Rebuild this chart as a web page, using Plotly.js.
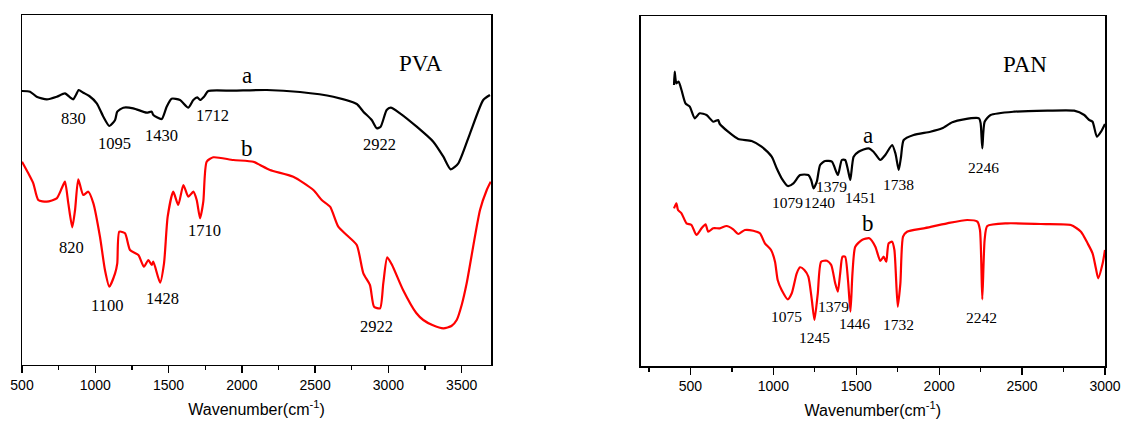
<!DOCTYPE html>
<html>
<head>
<meta charset="utf-8">
<script src="https://cdn.plot.ly/plotly-3.0.1.min.js"></script>
<style>html,body{margin:0;padding:0;background:#fff;}#chart{width:1126px;height:423px;}</style>
</head>
<body>
<div id="chart"></div>
<script>
// ---------- DATA (transmittance in arbitrary units) ----------
const pvaA_wn = [500,555,600,669,737,793,828,850,868,887,918,959,1010,1055,1096,1135,1150,1191,1259,1351,1385,1396,1453,1487,1521,1578,1635,1669,1696,1715,1742,1771,1942,2170,2397,2624,2784,2829,2886,2920,2947,2988,3016,3079,3193,3306,3375,3425,3477,3557,3647,3693];
const pvaA_T  = [274,273.3,268.3,265.7,268.3,271.7,267.7,265.7,270,275,272.3,269,261.7,248.3,239,245,253.3,257.3,256.7,252.3,253.3,250,246,258.3,266.3,265,257.3,265,267.7,265,268.3,274,274.3,275,273,268.3,261,253.3,245,236.7,238.3,255,257.3,251.7,238.3,223.3,208.3,195.7,201.7,231.7,265,270];

const pvaB_wn = [500,543,577,611,669,737,771,793,816,843,862,884,918,952,987,1032,1066,1096,1135,1150,1164,1203,1237,1294,1332,1362,1385,1396,1442,1469,1494,1532,1566,1601,1635,1669,1692,1715,1737,1760,1805,1942,2078,2124,2192,2351,2488,2545,2602,2658,2715,2784,2829,2874,2902,2943,2965,2992,3025,3100,3190,3238,3300,3375,3430,3466,3500,3534,3625,3671,3698];
const pvaB_T  = [203.3,191.7,181.7,165,163.3,166.7,176.7,183.3,161.7,137.7,155,185.7,170,173.3,161.7,128.3,95,78.3,91.7,101.7,133.3,131.7,115,110,98.3,105,100,103.3,82.3,101.7,148.3,173.3,160,180,168.3,173.3,165,146.7,163.3,203.3,207.7,205,203.3,200,195,188.3,175,165,158.3,138.3,130,120,91.7,80,58.3,56.7,81.7,107.7,100,75,52,45,40,36.7,39,45,60,81.7,155,175,183.3];

const panA_wn = [401,405,415,429,446,470,496,526,556,597,637,667,677,727,788,869,929,990,1020,1050,1087,1121,1161,1211,1228,1242,1262,1282,1312,1353,1389,1413,1433,1450,1464,1484,1514,1574,1604,1645,1675,1716,1736,1756,1770,1786,1846,1947,2018,2079,2149,2240,2250,2260,2274,2310,2451,2653,2814,2875,2905,2925,2951,2976,3000];
const panA_T  = [281,294.3,282.7,284.3,276,262.7,259.3,247.7,252.7,251,244.3,246,242,234.3,227,225,219.3,209.3,197.7,187.7,180,182.7,191,191,186,177.7,184.3,201,205,204.3,191,206,206,196,186,209.3,214.3,217.7,214.3,206,211,221,212.7,196,209.3,226,231,234.3,237.7,243.7,246.7,247.7,242.7,217.7,244.3,251,254.3,255.3,255.3,251,246,244.3,229.3,234.3,242];

const panB_wn = [401,415,425,446,476,506,536,567,591,607,637,677,718,758,788,828,879,919,949,986,1010,1026,1050,1087,1111,1141,1161,1187,1211,1232,1248,1268,1288,1323,1349,1373,1389,1403,1417,1433,1450,1465,1477,1494,1534,1579,1615,1645,1665,1681,1695,1716,1730,1750,1766,1782,1806,1907,2048,2169,2230,2246,2260,2274,2290,2411,2613,2794,2855,2895,2925,2945,2959,2986,3000];
const panB_T  = [157.7,162.7,156,152.7,142.7,141,131,137.7,141.7,134.3,137.7,137.7,140,136.7,132,136,135.3,132.7,122.7,116,104.3,86,76,66.7,72.7,92.7,98.7,96,89.3,66,46,72.7,104.3,105.3,101,82.7,74.3,92.7,109.3,109.3,86,54.3,92.7,119.3,126,127.7,119.3,105,109.3,104.3,122.7,124.3,116,59.3,82.7,129.3,134.3,137.7,142.7,146,144.3,136,66.7,126,140,142.7,142,141,134.3,122.7,112.7,97.7,87.7,102.7,116];

const pvaA_peaks = ["830","1095","1430","1712","2922"];
const pvaB_peaks = ["820","1100","1428","1710","2922"];
const panA_peaks = ["1079","1240","1379","1451","1738","2246"];
const panB_peaks = ["1075","1245","1379","1446","1732","2242"];
const xTitle = "Wavenumber(cm<sup>-1</sup>)";

// ---------- placement of texts (wavenumber, T) ----------
const pvaA_pos = [[848,247],[1134,222],[1455,230],[1803,250],[2936,221]];
const pvaB_pos = [[839,118],[1082,60],[1457,67],[1742,135],[2920,39]];
const panA_pos = [[1085,164],[1280,164],[1353,180],[1524,169],[1752,182],[2270,199]];
const panB_pos = [[1081,50],[1248,29],[1362,60],[1488,43],[1752,42],[2256,49]];

const serif = "Liberation Serif, Times New Roman, serif";
const sans = "Liberation Sans, Arial, sans-serif";

function tr(x, y, xa, ya, color) {
  return {x: x, y: y, xaxis: xa, yaxis: ya, mode: 'lines',
    line: {color: color, width: 2.2, shape: 'spline', smoothing: 0.6}, hoverinfo: 'skip'};
}
const traces = [
  tr(pvaA_wn, pvaA_T, 'x', 'y', '#000'),
  tr(pvaB_wn, pvaB_T, 'x', 'y', '#ff0000'),
  tr(panA_wn, panA_T, 'x2', 'y2', '#000'),
  tr(panB_wn, panB_T, 'x2', 'y2', '#ff0000')
];

const ann = [];
function addLabels(texts, pos, xr, yr, size) {
  texts.forEach((t, i) => ann.push({text: t, x: pos[i][0], y: pos[i][1], xref: xr, yref: yr,
    showarrow: false, font: {family: serif, size: size, color: '#000'}}));
}
addLabels(pvaA_peaks, pvaA_pos, 'x', 'y', 16.5);
addLabels(pvaB_peaks, pvaB_pos, 'x', 'y', 16.5);
addLabels(panA_peaks, panA_pos, 'x2', 'y2', 15.5);
addLabels(panB_peaks, panB_pos, 'x2', 'y2', 15.5);
addLabels(["a","b","PVA"], [[2033,290],[2035,217],[3222,302]], 'x', 'y', 23);
addLabels(["a","b","PAN"], [[1571,231],[1571,143],[2516,302]], 'x2', 'y2', 23);

function xax(range, dom, minorTick0) {
  return {
    domain: dom, range: range, tick0: 500, dtick: 500, ticks: 'outside', ticklen: 7, tickwidth: 1.3, tickcolor: '#000',
    minor: {tick0: minorTick0, dtick: 250, ticks: 'outside', ticklen: 4, tickwidth: 1.3, tickcolor: '#000'},
    showline: true, mirror: true, linecolor: '#000', linewidth: 1.5, showgrid: false, zeroline: false,
    tickfont: {family: sans, size: 14, color: '#000'},
    title: {text: xTitle, font: {family: sans, size: 16, color: '#000'}, standoff: 11},
    automargin: false
  };
}
function yax(dom, anchor) {
  return {domain: dom, range: [0, 350], anchor: anchor, showticklabels: false, ticks: '', showline: true, mirror: true,
    linecolor: '#000', linewidth: 1.5, showgrid: false, zeroline: false, automargin: false};
}

const layout = {
  width: 1126, height: 423,
  margin: {l: 22, r: 21, t: 15, b: 57},
  paper_bgcolor: '#fff', plot_bgcolor: '#fff',
  showlegend: false,
  xaxis: Object.assign(xax([500, 3700], [0, 0.43306], 0), {anchor: 'y'}),
  yaxis: yax([0.00285, 1], 'x'),
  xaxis2: Object.assign(xax([200, 3000], [0.57128, 1], 0), {anchor: 'y2'}),
  yaxis2: yax([0, 0.99715], 'x2'),
  annotations: ann
};

Plotly.newPlot('chart', traces, layout, {staticPlot: true, displayModeBar: false});
</script>
</body>
</html>
